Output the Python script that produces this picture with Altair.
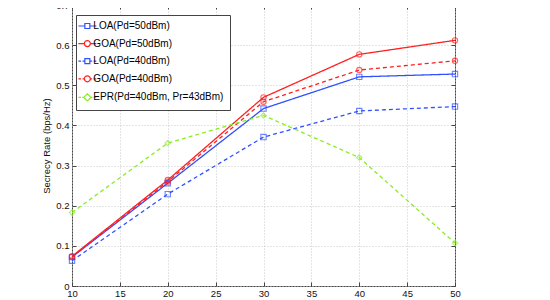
import altair as alt
import pandas as pd

# ---- data ----
snr = [10, 20, 30, 40, 50]
series_names = [
    "LOA(Pd=50dBm)",
    "GOA(Pd=50dBm)",
    "LOA(Pd=40dBm)",
    "GOA(Pd=40dBm)",
    "EPR(Pd=40dBm, Pr=43dBm)",
]
loa_50 = [0.072, 0.256, 0.442, 0.521, 0.528]
goa_50 = [0.074, 0.264, 0.470, 0.577, 0.612]
loa_40 = [0.063, 0.229, 0.371, 0.436, 0.447]
goa_40 = [0.073, 0.260, 0.459, 0.538, 0.561]
epr_40 = [0.183, 0.356, 0.425, 0.320, 0.107]

x_ticks = [10, 15, 20, 25, 30, 35, 40, 45, 50]
y_ticks = [0, 0.1, 0.2, 0.3, 0.4, 0.5, 0.6, 0.7]

colors = ["#3050ff", "#ff2020", "#3050ff", "#ff2020", "#88ee22"]
shapes = ["square", "circle", "square", "circle", "diamond"]
dashes = [[1, 0], [1, 0], [4, 3], [4, 3], [4, 3]]

# legend samples (line + marker) as symbol paths, in symbol units
SQ = "M-0.83,-0.83H0.83V0.83H-0.83Z"
CI = "M-1,0A1,1 0 1,0 1,0A1,1 0 1,0 -1,0Z"
DI = "M-1.2,0L0,-1.2L1.2,0L0,1.2Z"
SOLID_SQ = "M-3,0H-0.83M0.83,0H3"
SOLID_CI = "M-3,0H-1M1,0H3"
DASH_SQ = "M-3,0H-2.1M-1.6,0H-0.83M0.83,0H1.6M2.1,0H3"
DASH_CI = "M-3,0H-2.1M-1.6,0H-1M1,0H1.6M2.1,0H3"
DASH_DI = "M-3,0H-2.1M-1.7,0H-1.2M1.2,0H1.7M2.1,0H3"
legend_symbols = [
    SOLID_SQ + SQ,
    SOLID_CI + CI,
    DASH_SQ + SQ,
    DASH_CI + CI,
    DASH_DI + DI,
]

rows = []
for name, vals in zip(series_names, [loa_50, goa_50, loa_40, goa_40, epr_40]):
    for x, v in zip(snr, vals):
        rows.append({"snr": x, "rate": v, "series": name})
df = pd.DataFrame(rows)

FONT = "Liberation Sans"
FRAME = "#444444"

xs = alt.Scale(domain=[10, 50], nice=False, zero=False)
ys = alt.Scale(domain=[0, 0.7], nice=False, zero=False)
cs = alt.Scale(domain=series_names, range=colors)

legend_box = alt.Legend(
    orient="none", legendX=4, legendY=10, title=None, padding=6,
    rowPadding=6.6, symbolSize=36, symbolStrokeWidth=1.2, symbolOffset=0.35,
    labelOffset=1, labelFont=FONT, labelFontSize=10, labelColor="#000000",
    strokeColor=FRAME, fillColor="#ffffff", cornerRadius=0,
)

main_x_axis = alt.Axis(
    values=x_ticks, grid=True, gridDash=[1, 2], gridColor="#c8c8c8",
    tickSize=0, domain=False, labelPadding=2, labelFlush=False,
    labelOverlap=False, title="SNR (dB)", titlePadding=2,
)
main_y_axis = alt.Axis(
    values=y_ticks, format="~g", grid=True, gridDash=[1, 2],
    gridColor="#c8c8c8", tickSize=0, domain=False, labelPadding=3,
    labelFlush=False, labelOverlap=False,
    title="Secrecy Rate (bps/Hz)", titlePadding=4,
)

lines = alt.Chart(df).mark_line(strokeWidth=1.3).encode(
    x=alt.X("snr:Q", scale=xs, axis=main_x_axis),
    y=alt.Y("rate:Q", scale=ys, axis=main_y_axis),
    color=alt.Color("series:N", scale=cs, legend=None),
    strokeDash=alt.StrokeDash(
        "series:N", scale=alt.Scale(domain=series_names, range=dashes),
        legend=None,
    ),
    order="snr:Q",
)


def tick_axis(orient, values):
    return alt.Axis(
        orient=orient, offset=-4, values=values, tickSize=4, tickColor=FRAME,
        tickWidth=1, labels=False, domain=False, grid=False, title=None,
    )


points = alt.Chart(df).mark_point(filled=False, size=28, strokeWidth=1.1).encode(
    x=alt.X("snr:Q", scale=xs, axis=tick_axis("bottom", x_ticks)),
    y=alt.Y("rate:Q", scale=ys, axis=tick_axis("left", y_ticks)),
    color=alt.Color("series:N", scale=cs, legend=None),
    shape=alt.Shape(
        "series:N", scale=alt.Scale(domain=series_names, range=shapes),
        legend=None,
    ),
)

# frame ticks on top/right; this layer also carries the legend (its shape
# scale holds the line+marker samples)
frame_ticks = alt.Chart(df).mark_point(
    filled=False, opacity=1, size=0, strokeWidth=1.2
).encode(
    x=alt.X("snr:Q", scale=xs, axis=tick_axis("top", x_ticks)),
    y=alt.Y("rate:Q", scale=ys, axis=tick_axis("right", y_ticks)),
    color=alt.Color("series:N", scale=cs, legend=legend_box),
    shape=alt.Shape(
        "series:N", scale=alt.Scale(domain=series_names, range=legend_symbols),
        legend=legend_box,
    ),
).transform_filter("datum.rate < 0")

chart = (
    alt.layer(lines, points, frame_ticks)
    .resolve_axis(x="independent", y="independent")
    .resolve_scale(shape="independent")
    .resolve_legend(color="independent", shape="independent", strokeDash="independent")
    .properties(
        width=383,
        height=281,
        autosize=alt.AutoSizeParams(type="none"),
        padding={"left": 64, "top": -3, "right": 87, "bottom": 14},
    )
    .configure_view(stroke=FRAME, strokeWidth=1)
    .configure_axis(
        labelFont=FONT, labelFontSize=9.5, labelColor="#111111",
        titleFont=FONT, titleFontSize=9.5, titleFontWeight="normal",
        titleColor="#111111",
    )
)

chart.save("out.html", embed_options={"renderer": "svg", "actions": False})
